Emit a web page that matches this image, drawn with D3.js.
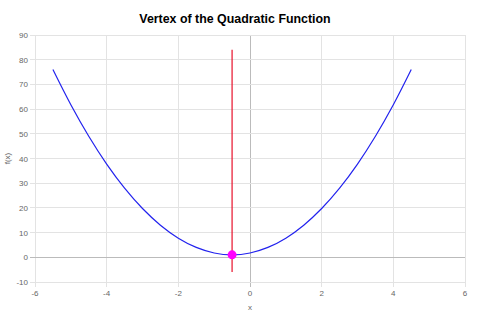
<!DOCTYPE html>
<html>
<head>
<meta charset="utf-8">
<script src="https://cdn.jsdelivr.net/npm/d3@7"></script>
<style>
  body { margin: 0; background: #fff; }
  text { font-family: "Liberation Sans", Arial, sans-serif; }
</style>
</head>
<body>
<div id="chart"></div>
<script>
// values
const xValues = [-5.5, -5, -4.5, -4, -3.5, -3, -2.5, -2, -1.5, -1, -0.5, 0, 0.5, 1, 1.5, 2, 2.5, 3, 3.5, 4, 4.5];
const yValues = [76, 61.75, 49, 37.75, 28, 19.75, 13, 7.75, 4, 1.75, 1, 1.75, 4, 7.75, 13, 19.75, 28, 37.75, 49, 61.75, 76];
const vertex = [-0.5, 1];
const axisLineX = [-0.5, -0.5];
const axisLineY = [-6, 84];
const xTicks = [-6, -4, -2, 0, 2, 4, 6];
const yTicks = [-10, 0, 10, 20, 30, 40, 50, 60, 70, 80, 90];

const W = 500, H = 315;
const margin = { top: 35, right: 35, bottom: 33, left: 35 };

const svg = d3.select("#chart").append("svg")
    .attr("width", W)
    .attr("height", H);

const x = d3.scaleLinear().domain([-6, 6]).range([margin.left, W - margin.right]);
const y = d3.scaleLinear().domain([-10, 90]).range([H - margin.bottom, margin.top]);

// grid
svg.append("g").selectAll("line")
    .data(xTicks)
    .enter().append("line")
    .attr("x1", d => x(d)).attr("x2", d => x(d))
    .attr("y1", y(90)).attr("y2", y(-10) + 5)
    .attr("stroke", d => d === 0 ? "#bbb" : "#e3e3e3")
    .attr("stroke-width", 1)
    .attr("shape-rendering", "crispEdges");

svg.append("g").selectAll("line")
    .data(yTicks)
    .enter().append("line")
    .attr("x1", x(-6) - 5).attr("x2", x(6))
    .attr("y1", d => y(d)).attr("y2", d => y(d))
    .attr("stroke", d => d === 0 ? "#bbb" : "#e3e3e3")
    .attr("stroke-width", 1)
    .attr("shape-rendering", "crispEdges");

// tick labels
svg.append("g").selectAll("text")
    .data(yTicks)
    .enter().append("text")
    .attr("x", x(-6) - 7)
    .attr("y", d => y(d) + 3)
    .attr("text-anchor", "end")
    .attr("font-size", "8px")
    .attr("fill", "#666")
    .text(d => d);

svg.append("g").selectAll("text")
    .data(xTicks)
    .enter().append("text")
    .attr("x", d => x(d))
    .attr("y", y(-10) + 14)
    .attr("text-anchor", "middle")
    .attr("font-size", "8px")
    .attr("fill", "#666")
    .text(d => d);

// axis titles
svg.append("text")
    .attr("x", x(0))
    .attr("y", y(-10) + 28)
    .attr("text-anchor", "middle")
    .attr("font-size", "8px")
    .attr("fill", "#666")
    .text("x");

svg.append("text")
    .attr("transform", "translate(10," + ((y(90) + y(-10)) / 2) + ") rotate(-90)")
    .attr("text-anchor", "middle")
    .attr("font-size", "8px")
    .attr("fill", "#666")
    .text("f(x)");

// title
svg.append("text")
    .attr("x", 235)
    .attr("y", 23)
    .attr("text-anchor", "middle")
    .attr("font-size", "12.4px")
    .attr("font-weight", "bold")
    .attr("fill", "#000")
    .text("Vertex of the Quadratic Function");

// quadratic curve
const pts = xValues.map((v, i) => [v, yValues[i]]);
const line = d3.line()
    .x(d => x(d[0]))
    .y(d => y(d[1]))
    .curve(d3.curveCatmullRom);

svg.append("path")
    .datum(pts)
    .attr("d", line)
    .attr("fill", "none")
    .attr("stroke", "#2222ee")
    .attr("stroke-width", 1.2);

// axis of symmetry
svg.append("line")
    .attr("x1", x(axisLineX[0])).attr("x2", x(axisLineX[1]))
    .attr("y1", y(axisLineY[0])).attr("y2", y(axisLineY[1]))
    .attr("stroke", "#e8102a")
    .attr("stroke-width", 1.2);

// vertex point
svg.append("circle")
    .attr("cx", x(vertex[0]))
    .attr("cy", y(vertex[1]))
    .attr("r", 4.5)
    .attr("fill", "#ff00ff");
</script>
</body>
</html>
